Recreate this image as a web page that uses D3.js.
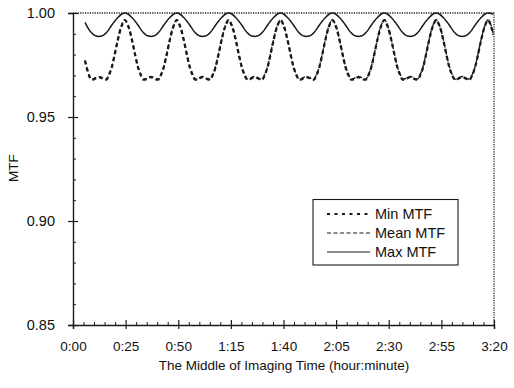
<!DOCTYPE html>
<html><head><meta charset="utf-8">
<script src="https://cdn.jsdelivr.net/npm/d3@7"></script>
<style>
body{margin:0;background:#fff}
svg{display:block}
text{font-family:"Liberation Sans",Arial,Helvetica,sans-serif;fill:#111}
</style></head>
<body><svg id="c" width="514" height="388"></svg>
<script>
const xTickMinutes = [0, 25, 50, 75, 100, 125, 150, 175, 200];
const xTickLabels = ["0:00", "0:25", "0:50", "1:15", "1:40", "2:05", "2:30", "2:55", "3:20"];
const yTicks = [0.85, 0.90, 0.95, 1.00];
const yTickLabels = ["0.85", "0.90", "0.95", "1.00"];
const seriesNames = ["Min MTF", "Mean MTF", "Max MTF"];

const minutes = [
  5.7, 7.6, 8.7, 9.9, 11.1, 12.3, 13.5, 14.7, 15.9, 17.0, 18.3, 19.6, 21.3, 23.0, 24.6,
  26.3, 28.0, 29.7, 31.0, 32.3, 33.4, 34.6, 35.8, 37.0, 38.2, 39.4, 40.6, 41.7, 43.0, 44.3, 46.0, 47.7, 49.3,
  50.9, 52.6, 54.3, 55.6, 56.9, 58.0, 59.2, 60.4, 61.6, 62.8, 64.0, 65.2, 66.3, 67.6, 68.9, 70.6, 72.3, 73.9,
  75.6, 77.3, 79.0, 80.3, 81.6, 82.7, 83.9, 85.1, 86.3, 87.5, 88.7, 89.9, 91.0, 92.3, 93.6, 95.3, 97.0, 98.6,
  100.2, 101.9, 103.6, 104.9, 106.2, 107.3, 108.5, 109.7, 110.9, 112.1, 113.3, 114.5, 115.6, 116.9, 118.2, 119.9, 121.6, 123.2,
  124.9, 126.6, 128.3, 129.6, 130.9, 132.0, 133.2, 134.4, 135.6, 136.8, 138.0, 139.2, 140.3, 141.6, 142.9, 144.6, 146.3, 147.9,
  149.5, 151.2, 152.9, 154.2, 155.5, 156.6, 157.8, 159.0, 160.2, 161.4, 162.6, 163.8, 164.9, 166.2, 167.5, 169.2, 170.9, 172.5,
  174.2, 175.9, 177.6, 178.9, 180.2, 181.3, 182.5, 183.7, 184.9, 186.1, 187.3, 188.5, 189.6, 190.9, 192.2, 193.9, 195.6, 197.2,
  198.5, 199.6
];

const minMTF = [
  0.9770, 0.9700, 0.9680, 0.9681, 0.9688, 0.9692, 0.9688, 0.9681, 0.9680, 0.9700, 0.9735, 0.9790, 0.9870, 0.9935, 0.9966,
  0.9935, 0.9870, 0.9790, 0.9735, 0.9700, 0.9680, 0.9681, 0.9688, 0.9692, 0.9688, 0.9681, 0.9680, 0.9700, 0.9735, 0.9790, 0.9870, 0.9935, 0.9966,
  0.9935, 0.9870, 0.9790, 0.9735, 0.9700, 0.9680, 0.9681, 0.9688, 0.9692, 0.9688, 0.9681, 0.9680, 0.9700, 0.9735, 0.9790, 0.9870, 0.9935, 0.9966,
  0.9935, 0.9870, 0.9790, 0.9735, 0.9700, 0.9680, 0.9681, 0.9688, 0.9692, 0.9688, 0.9681, 0.9680, 0.9700, 0.9735, 0.9790, 0.9870, 0.9935, 0.9966,
  0.9935, 0.9870, 0.9790, 0.9735, 0.9700, 0.9680, 0.9681, 0.9688, 0.9692, 0.9688, 0.9681, 0.9680, 0.9700, 0.9735, 0.9790, 0.9870, 0.9935, 0.9966,
  0.9935, 0.9870, 0.9790, 0.9735, 0.9700, 0.9680, 0.9681, 0.9688, 0.9692, 0.9688, 0.9681, 0.9680, 0.9700, 0.9735, 0.9790, 0.9870, 0.9935, 0.9966,
  0.9935, 0.9870, 0.9790, 0.9735, 0.9700, 0.9680, 0.9681, 0.9688, 0.9692, 0.9688, 0.9681, 0.9680, 0.9700, 0.9735, 0.9790, 0.9870, 0.9935, 0.9966,
  0.9935, 0.9870, 0.9790, 0.9735, 0.9700, 0.9680, 0.9681, 0.9688, 0.9692, 0.9688, 0.9681, 0.9680, 0.9700, 0.9735, 0.9790, 0.9870, 0.9935, 0.9966,
  0.9940, 0.9895
];

const meanMTF = [
  0.9773, 0.9703, 0.9683, 0.9684, 0.9691, 0.9695, 0.9691, 0.9684, 0.9683, 0.9703, 0.9738, 0.9793, 0.9873, 0.9938, 0.9968,
  0.9938, 0.9873, 0.9793, 0.9738, 0.9703, 0.9683, 0.9684, 0.9691, 0.9695, 0.9691, 0.9684, 0.9683, 0.9703, 0.9738, 0.9793, 0.9873, 0.9938, 0.9968,
  0.9938, 0.9873, 0.9793, 0.9738, 0.9703, 0.9683, 0.9684, 0.9691, 0.9695, 0.9691, 0.9684, 0.9683, 0.9703, 0.9738, 0.9793, 0.9873, 0.9938, 0.9968,
  0.9938, 0.9873, 0.9793, 0.9738, 0.9703, 0.9683, 0.9684, 0.9691, 0.9695, 0.9691, 0.9684, 0.9683, 0.9703, 0.9738, 0.9793, 0.9873, 0.9938, 0.9968,
  0.9938, 0.9873, 0.9793, 0.9738, 0.9703, 0.9683, 0.9684, 0.9691, 0.9695, 0.9691, 0.9684, 0.9683, 0.9703, 0.9738, 0.9793, 0.9873, 0.9938, 0.9968,
  0.9938, 0.9873, 0.9793, 0.9738, 0.9703, 0.9683, 0.9684, 0.9691, 0.9695, 0.9691, 0.9684, 0.9683, 0.9703, 0.9738, 0.9793, 0.9873, 0.9938, 0.9968,
  0.9938, 0.9873, 0.9793, 0.9738, 0.9703, 0.9683, 0.9684, 0.9691, 0.9695, 0.9691, 0.9684, 0.9683, 0.9703, 0.9738, 0.9793, 0.9873, 0.9938, 0.9968,
  0.9938, 0.9873, 0.9793, 0.9738, 0.9703, 0.9683, 0.9684, 0.9691, 0.9695, 0.9691, 0.9684, 0.9683, 0.9703, 0.9738, 0.9793, 0.9873, 0.9938, 0.9968,
  0.9943, 0.9898
];

const maxMTF = [
  0.9955, 0.9920, 0.9906, 0.9895, 0.9889, 0.9887, 0.9889, 0.9895, 0.9906, 0.9920, 0.9940, 0.9958, 0.9978, 0.9994, 1.0000,
  0.9994, 0.9978, 0.9958, 0.9940, 0.9920, 0.9906, 0.9895, 0.9889, 0.9887, 0.9889, 0.9895, 0.9906, 0.9920, 0.9940, 0.9958, 0.9978, 0.9994, 1.0000,
  0.9994, 0.9978, 0.9958, 0.9940, 0.9920, 0.9906, 0.9895, 0.9889, 0.9887, 0.9889, 0.9895, 0.9906, 0.9920, 0.9940, 0.9958, 0.9978, 0.9994, 1.0000,
  0.9994, 0.9978, 0.9958, 0.9940, 0.9920, 0.9906, 0.9895, 0.9889, 0.9887, 0.9889, 0.9895, 0.9906, 0.9920, 0.9940, 0.9958, 0.9978, 0.9994, 1.0000,
  0.9994, 0.9978, 0.9958, 0.9940, 0.9920, 0.9906, 0.9895, 0.9889, 0.9887, 0.9889, 0.9895, 0.9906, 0.9920, 0.9940, 0.9958, 0.9978, 0.9994, 1.0000,
  0.9994, 0.9978, 0.9958, 0.9940, 0.9920, 0.9906, 0.9895, 0.9889, 0.9887, 0.9889, 0.9895, 0.9906, 0.9920, 0.9940, 0.9958, 0.9978, 0.9994, 1.0000,
  0.9994, 0.9978, 0.9958, 0.9940, 0.9920, 0.9906, 0.9895, 0.9889, 0.9887, 0.9889, 0.9895, 0.9906, 0.9920, 0.9940, 0.9958, 0.9978, 0.9994, 1.0000,
  0.9994, 0.9978, 0.9958, 0.9940, 0.9920, 0.9906, 0.9895, 0.9889, 0.9887, 0.9889, 0.9895, 0.9906, 0.9920, 0.9940, 0.9958, 0.9978, 0.9994, 1.0000,
  0.9998, 0.9995
];

const svg = d3.select("#c");
const x = d3.scaleLinear().domain([0, 200]).range([73, 494]);
const y = d3.scaleLinear().domain([0.85, 1.0]).range([325, 13]);
const ink = "#1a1a1a";

// dotted top & right frame
svg.append("path")
  .attr("d", `M${x(0)},${y(1)}H${x(200)}V${y(0.85)}`)
  .attr("fill", "none").attr("stroke", ink).attr("stroke-width", 1.3)
  .attr("stroke-dasharray", "1.2,1.2");

// y axis
const yAxis = svg.append("g").attr("transform", `translate(${x(0)},0)`)
  .call(d3.axisLeft(y).tickValues(yTicks).tickFormat((d, i) => yTickLabels[i]).tickSize(5).tickPadding(13));
yAxis.select(".domain").attr("stroke", ink).attr("stroke-width", 1.4);
yAxis.selectAll(".tick line").attr("x1", 5).attr("stroke", ink).attr("stroke-width", 1.2);
yAxis.selectAll(".tick text").attr("font-size", 14.5).attr("font-family", "Liberation Sans, Arial, sans-serif").attr("fill", ink);
const yMinor = d3.range(0.86, 1.0, 0.01).filter(v => Math.abs(v * 20 - Math.round(v * 20)) > 1e-6);
const yMinorG = svg.append("g").attr("transform", `translate(${x(0)},0)`)
  .call(d3.axisRight(y).tickValues(yMinor).tickSize(3).tickFormat(""));
yMinorG.select(".domain").remove();
yMinorG.selectAll(".tick line").attr("stroke", ink);

// x axis
const xAxis = svg.append("g").attr("transform", `translate(0,${y(0.85)})`)
  .call(d3.axisBottom(x).tickValues(xTickMinutes).tickFormat((d, i) => xTickLabels[i]).tickSize(4).tickPadding(12));
xAxis.select(".domain").attr("stroke", ink).attr("stroke-width", 1.4);
xAxis.selectAll(".tick line").attr("y1", -5).attr("stroke", ink).attr("stroke-width", 1.2);
xAxis.selectAll(".tick text").attr("font-size", 13.5).attr("font-family", "Liberation Sans, Arial, sans-serif").attr("fill", ink);
const xMinor = d3.range(5, 200, 5).filter(v => v % 25 !== 0);
const xMinorG = svg.append("g").attr("transform", `translate(0,${y(0.85)})`)
  .call(d3.axisTop(x).tickValues(xMinor).tickSize(3).tickFormat(""));
xMinorG.select(".domain").remove();
xMinorG.selectAll(".tick line").attr("stroke", ink);

// axis titles
svg.append("text").attr("x", 284).attr("y", 370).attr("text-anchor", "middle")
  .attr("font-size", 13.5).text("The Middle of Imaging Time (hour:minute)");
svg.append("text").attr("transform", "translate(18,168) rotate(-90)").attr("text-anchor", "middle")
  .attr("font-size", 13.5).text("MTF");

// series (Min and Mean nearly coincide in the plot)
const styles = [
  {vals: minMTF, dash: "4,3", w: 2.3, legendDash: "3,4.5", lw: 2},
  {vals: meanMTF, dash: "4,3", w: 1.4, legendDash: "4,2.5", lw: 1.2},
  {vals: maxMTF, dash: null, w: 1.5, legendDash: null, lw: 1.2}
];
const line = d3.line().curve(d3.curveCatmullRom.alpha(0.5));
styles.forEach(s => {
  svg.append("path")
    .attr("d", line(minutes.map((t, i) => [x(t), y(s.vals[i])])))
    .attr("fill", "none").attr("stroke", ink).attr("stroke-width", s.w)
    .attr("stroke-dasharray", s.dash);
});

// legend
const lg = svg.append("g");
lg.append("rect").attr("x", 313).attr("y", 199.5).attr("width", 145).attr("height", 65.5)
  .attr("fill", "#fff").attr("stroke", ink).attr("stroke-width", 1.1);
const rowsY = [214, 233, 252];
seriesNames.forEach((n, i) => {
  lg.append("line").attr("x1", 327).attr("x2", 370).attr("y1", rowsY[i]).attr("y2", rowsY[i])
    .attr("stroke", ink).attr("stroke-width", styles[i].lw)
    .attr("stroke-dasharray", styles[i].legendDash);
  lg.append("text").attr("x", 375).attr("y", rowsY[i] + 5).attr("font-size", 14.5).text(n);
});
</script></body></html>
